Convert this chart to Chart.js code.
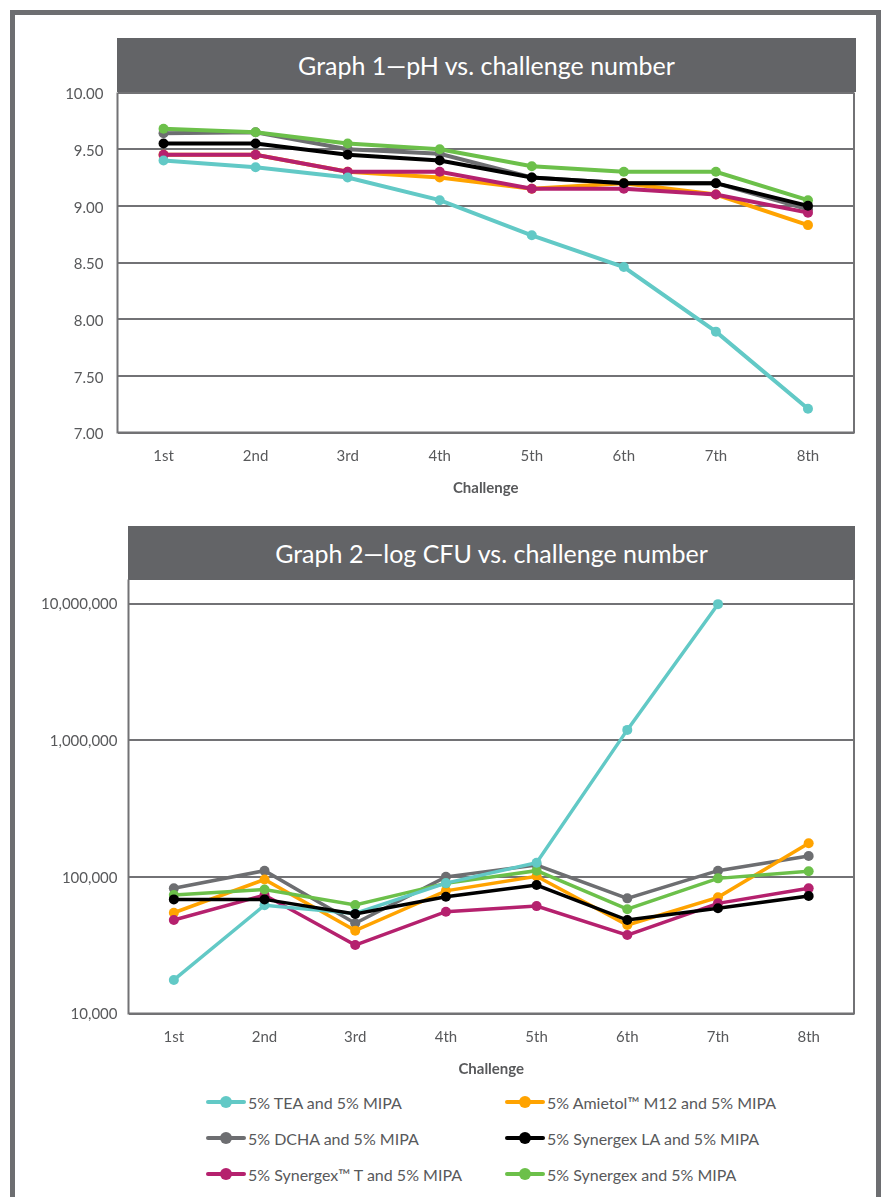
<!DOCTYPE html>
<html>
<head>
<meta charset="utf-8">
<script src="https://cdn.jsdelivr.net/npm/chart.js@4.4.0/dist/chart.umd.min.js"></script>
<style>
  html, body { margin: 0; padding: 0; background: #fff; }
  body { width: 883px; height: 1197px; overflow: hidden; position: relative; font-family: Lato, "Open Sans", sans-serif; }
  .frame { position: absolute; left: 10px; top: 10px; width: 861px; height: 1300px; border: 5px solid #6d6e71; }
  .bar { position: absolute; background: #636467; color: #fff; font-size: 25px; display: flex; align-items: center; justify-content: center; }
  canvas { position: absolute; left: 0; }
  #legend { position: absolute; left: 0; top: 0; }
  .item { position: absolute; height: 20px; display: flex; align-items: center; font-size: 16px; color: #58595b; white-space: nowrap; }
  .mark { position: relative; width: 40px; height: 20px; margin-right: 2px; }
  .mark .ln { position: absolute; left: 0; top: 8px; width: 40px; height: 4px; border-radius: 2px; }
  .mark .dot { position: absolute; left: 14px; top: 4px; width: 12px; height: 12px; border-radius: 50%; }
</style>
</head>
<body>
<div class="frame"></div>
<div class="bar" style="left:117px; top:38px; width:739px; height:54px;">Graph 1—pH vs. challenge number</div>
<div class="bar" style="left:128px; top:526px; width:727px; height:54px;">Graph 2—log CFU vs. challenge number</div>
<canvas id="phChart" width="883" height="510" style="top:0"></canvas>
<canvas id="cfuChart" width="883" height="591" style="top:500px"></canvas>
<div id="legend"></div>
<script>
const challenges = ["1st", "2nd", "3rd", "4th", "5th", "6th", "7th", "8th"];
const phTicks = [7, 7.5, 8, 8.5, 9, 9.5, 10];
const cfuTicks = [10000, 100000, 1000000, 10000000];

const seriesNames = [
  "5% TEA and 5% MIPA",
  "5% Amietol™ M12 and 5% MIPA",
  "5% DCHA and 5% MIPA",
  "5% Synergex LA and 5% MIPA",
  "5% Synergex™ T and 5% MIPA",
  "5% Synergex and 5% MIPA"
];
const seriesColors = ["#62c9c6", "#ffa300", "#6d6e71", "#000000", "#b5216e", "#6cc04a"];
const drawOrder = [1, 4, 5, 0, 3, 2];

// pH readings
const phTea = [9.40, 9.34, 9.25, 9.05, 8.74, 8.46, 7.89, 7.21];
const phAmietol = [9.45, 9.45, 9.30, 9.25, 9.15, 9.20, 9.10, 8.83];
const phDcha = [9.64, 9.65, 9.50, 9.46, 9.25, 9.20, 9.20, 8.97];
const phSynergexLA = [9.55, 9.55, 9.45, 9.40, 9.25, 9.20, 9.20, 9.00];
const phSynergexT = [9.45, 9.45, 9.30, 9.30, 9.15, 9.15, 9.10, 8.94];
const phSynergex = [9.68, 9.65, 9.55, 9.50, 9.35, 9.30, 9.30, 9.05];

// CFU counts
const cfuTea = [17600, 62000, 54000, 90000, 127000, 1190000, 9900000, null];
const cfuAmietol = [54600, 95600, 40400, 79000, 101000, 44400, 70800, 176000];
const cfuDcha = [82400, 111000, 45700, 100000, 122000, 69600, 111000, 142000];
const cfuSynergexLA = [68400, 68400, 53500, 71500, 87100, 48300, 58900, 72400];
const cfuSynergexT = [48300, 73600, 31700, 55600, 61100, 37500, 64000, 82400];
const cfuSynergex = [73600, 80900, 62200, 89600, 111000, 58000, 97500, 110000];

const phSeries = [phTea, phAmietol, phDcha, phSynergexLA, phSynergexT, phSynergex];
const cfuSeries = [cfuTea, cfuAmietol, cfuDcha, cfuSynergexLA, cfuSynergexT, cfuSynergex];

const gridColor = "#727275";
const textColor = "#58595b";

const boxPlugin = {
  id: "boxPlugin",
  afterDraw(chart) {
    const { ctx, chartArea: a } = chart;
    ctx.save();
    ctx.strokeStyle = gridColor;
    ctx.lineWidth = 2;
    ctx.beginPath();
    ctx.moveTo(a.left, a.top);
    ctx.lineTo(a.left, a.bottom);
    ctx.lineTo(a.right, a.bottom);
    ctx.lineTo(a.right, a.top);
    ctx.stroke();
    ctx.restore();
  }
};

function makeDatasets(series, lineWidth) {
  return series.map((data, i) => ({
    label: seriesNames[i],
    data: data,
    borderColor: seriesColors[i],
    backgroundColor: seriesColors[i],
    borderWidth: lineWidth,
    pointRadius: 5,
    pointBorderWidth: 0,
    tension: 0,
    order: drawOrder[i]
  }));
}

function makeChart(id, series, yOpts, leftWidth, topPad, lineWidth) {
  return new Chart(document.getElementById(id), {
    type: "line",
    data: { labels: challenges, datasets: makeDatasets(series, lineWidth) },
    options: {
      responsive: false,
      animation: false,
      devicePixelRatio: 1,
      layout: { padding: { top: topPad, right: 29, bottom: 0, left: 0 } },
      plugins: { legend: { display: false }, tooltip: { enabled: false } },
      scales: {
        x: {
          offset: true,
          grid: { display: false, drawTicks: false },
          border: { display: false },
          ticks: { color: textColor, padding: 15, font: { family: "Lato", size: 15 } },
          title: {
            display: true,
            text: "Challenge",
            color: textColor,
            font: { family: "Lato", size: 15, weight: "bold" },
            padding: { top: 0, bottom: 13 }
          },
          afterFit(scale) { scale.height = 77.5; }
        },
        y: Object.assign({
          grid: { color: gridColor, lineWidth: 2, drawTicks: false },
          border: { display: false },
          afterFit(scale) { scale.width = leftWidth; }
        }, yOpts)
      }
    },
    plugins: [boxPlugin]
  });
}

makeChart("phChart", phSeries, {
  min: 7,
  max: 10,
  afterBuildTicks(scale) { scale.ticks = phTicks.map(v => ({ value: v })); },
  ticks: {
    color: textColor,
    padding: 14,
    labelOffset: 2,
    font: { family: "Lato", size: 15 },
    callback: v => Number(v).toFixed(2)
  }
}, 117.5, 92.5, 4);

makeChart("cfuChart", cfuSeries, {
  type: "logarithmic",
  min: 10000,
  max: 15000000,
  afterBuildTicks(scale) { scale.ticks = cfuTicks.map(v => ({ value: v })); },
  ticks: {
    color: textColor,
    padding: 11,
    labelOffset: 1,
    font: { family: "Lato", size: 15 },
    callback: v => Number(v).toLocaleString("en-US")
  }
}, 128.5, 79.5, 3.5);

// legend, two columns
const legend = document.getElementById("legend");
const legendCols = [206, 505];
const legendRows = [1092, 1128, 1164];
seriesNames.forEach((name, i) => {
  const item = document.createElement("div");
  item.className = "item";
  item.style.left = legendCols[i % 2] + "px";
  item.style.top = legendRows[Math.floor(i / 2)] + "px";
  item.innerHTML = `<div class="mark"><div class="ln" style="background:${seriesColors[i]}"></div><div class="dot" style="background:${seriesColors[i]}"></div></div><span>${name}</span>`;
  legend.appendChild(item);
});
</script>
</body>
</html>
